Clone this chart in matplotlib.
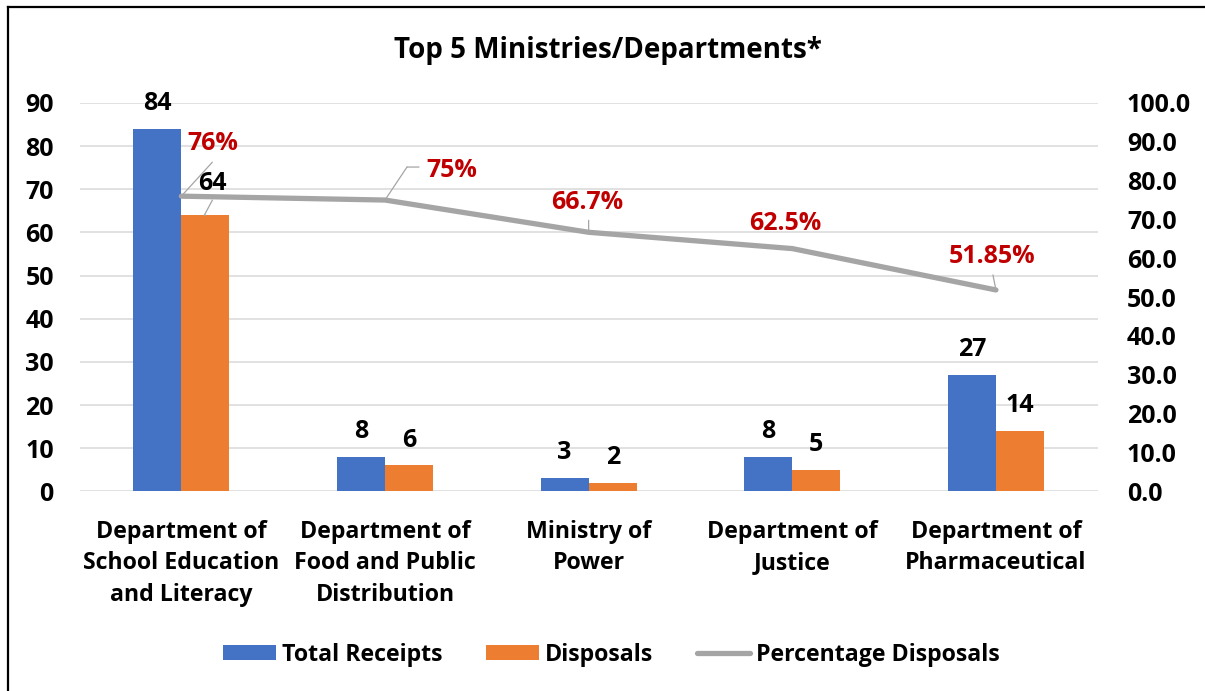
import matplotlib.pyplot as plt
import numpy as np
from matplotlib.lines import Line2D
from matplotlib.transforms import offset_copy

plt.rcParams['font.family'] = ['Open Sans', 'DejaVu Sans']
plt.rcParams['font.weight'] = 'bold'

categories = ["Department of\nSchool Education\nand Literacy",
              "Department of\nFood and Public\nDistribution",
              "Ministry of\nPower",
              "Department of\nJustice",
              "Department of\nPharmaceutical"]
receipts = [84, 8, 3, 8, 27]
disposals = [64, 6, 2, 5, 14]
pct = [76, 75, 66.7, 62.5, 51.85]
pct_labels = ["76%", "75%", "66.7%", "62.5%", "51.85%"]

blue = "#4472C4"
orange = "#ED7D31"
gray = "#A5A5A5"
red = "#C00000"

fig = plt.figure(figsize=(12.05, 6.91), dpi=100)
ax = fig.add_axes([0.066, 0.289, 0.845, 0.562])
ax2 = ax.twinx()


def label(a, xd, yd, text, dx, dy, color="black", size=18):
    # dx, dy: pixel offset of the text centre from the data point
    a.annotate(text, (xd, yd), xytext=(dx, dy - 9), textcoords="offset pixels",
               ha="center", va="baseline", fontsize=size, fontweight="bold", color=color, zorder=5)


def leader(a, xd, yd, pts):
    # polyline in pixel offsets from the data point
    prev = (0, 0)
    for p in pts:
        a.annotate("", (xd, yd), xycoords=offset_copy(a.transData, fig=fig, x=prev[0], y=prev[1], units="dots"),
                   xytext=(p[0] - prev[0], p[1] - prev[1]), textcoords="offset pixels",
                   arrowprops=dict(arrowstyle="-", color=gray, lw=0.9, shrinkA=0, shrinkB=0))
        prev = p


x = np.arange(len(categories))
w = 0.236
ax.bar(x - w / 2, receipts, w, color=blue, label="Total Receipts", zorder=2)
ax.bar(x + w / 2, disposals, w, color=orange, label="Disposals", zorder=2)
for i in range(len(x)):
    label(ax, x[i] - w / 2, receipts[i], str(receipts[i]), 0, 28)
    if i == 0:
        label(ax, x[i] + w / 2, disposals[i], str(disposals[i]), 7, 34)
        leader(ax, x[i] + w / 2, disposals[i], [(-1, 0), (7, 15)])
    else:
        label(ax, x[i] + w / 2, disposals[i], str(disposals[i]), 0, 27.5)

ax.set_xlim(-0.5, len(categories) - 0.5)
ax.set_ylim(0, 90)
ax.set_yticks(range(0, 91, 10))
ax.yaxis.grid(True, color="#D9D9D9", linewidth=1.1, zorder=0)
ax.set_axisbelow(True)
ax.set_xticks(x)
ax.set_xticklabels(categories, fontsize=16.7, fontweight="bold", linespacing=1.39)
ax.tick_params(axis="both", length=0, labelsize=18)
ax.tick_params(axis="x", pad=21, labelsize=16.7)
ax.tick_params(axis="y", pad=18.5)
for lab in ax.get_yticklabels():
    lab.set_fontweight("bold")

line, = ax2.plot(x, pct, color=gray, linewidth=3.8, solid_capstyle="round", label="Percentage Disposals", zorder=3)
ax2.set_ylim(0, 100)
ax2.set_yticks(range(0, 101, 10))
ax2.set_yticklabels([f"{v:.1f}" for v in range(0, 101, 10)], fontsize=18, fontweight="bold")
ax2.tick_params(axis="y", length=0, pad=21)

# percentage labels, pixel offsets from the line points
pct_offs = [(31, 55), (67, 32), (-1, 32), (-7, 28), (-3.5, 36)]
for i, (dx, dy) in enumerate(pct_offs):
    label(ax2, x[i], pct[i], pct_labels[i], dx, dy, color=red)
leader(ax2, x[0], pct[0], [(31, 34)])
leader(ax2, x[1], pct[1], [(22, 33), (34, 33)])
leader(ax2, x[2], pct[2], [(0, 12)])
leader(ax2, x[4], pct[4], [(-3, 15)])

for a in (ax, ax2):
    for s in a.spines.values():
        s.set_visible(False)

fig.text(0.5046, 0.916, "Top 5 Ministries/Departments*", ha="center", va="baseline", fontsize=20, fontweight="bold")

h1, l1 = ax.get_legend_handles_labels()
leg = fig.legend(h1 + [line], l1 + ["Percentage Disposals"], loc="center", bbox_to_anchor=(0.5075, 0.052),
                 ncol=3, frameon=False, fontsize=16.7, handlelength=2.27, handleheight=0.61,
                 columnspacing=1.9, handletextpad=0.26)
for t in leg.get_texts():
    t.set_fontweight("bold")

# frame edge: only the left and top sides fall inside the picture
fig.add_artist(Line2D([0.0068, 0.0068], [0.0, 0.99], transform=fig.transFigure, color="black", lw=1.6))
fig.add_artist(Line2D([0.0068, 1.0], [0.99, 0.99], transform=fig.transFigure, color="black", lw=1.6))

fig.savefig("out.png", dpi=100)
plt.close(fig)
